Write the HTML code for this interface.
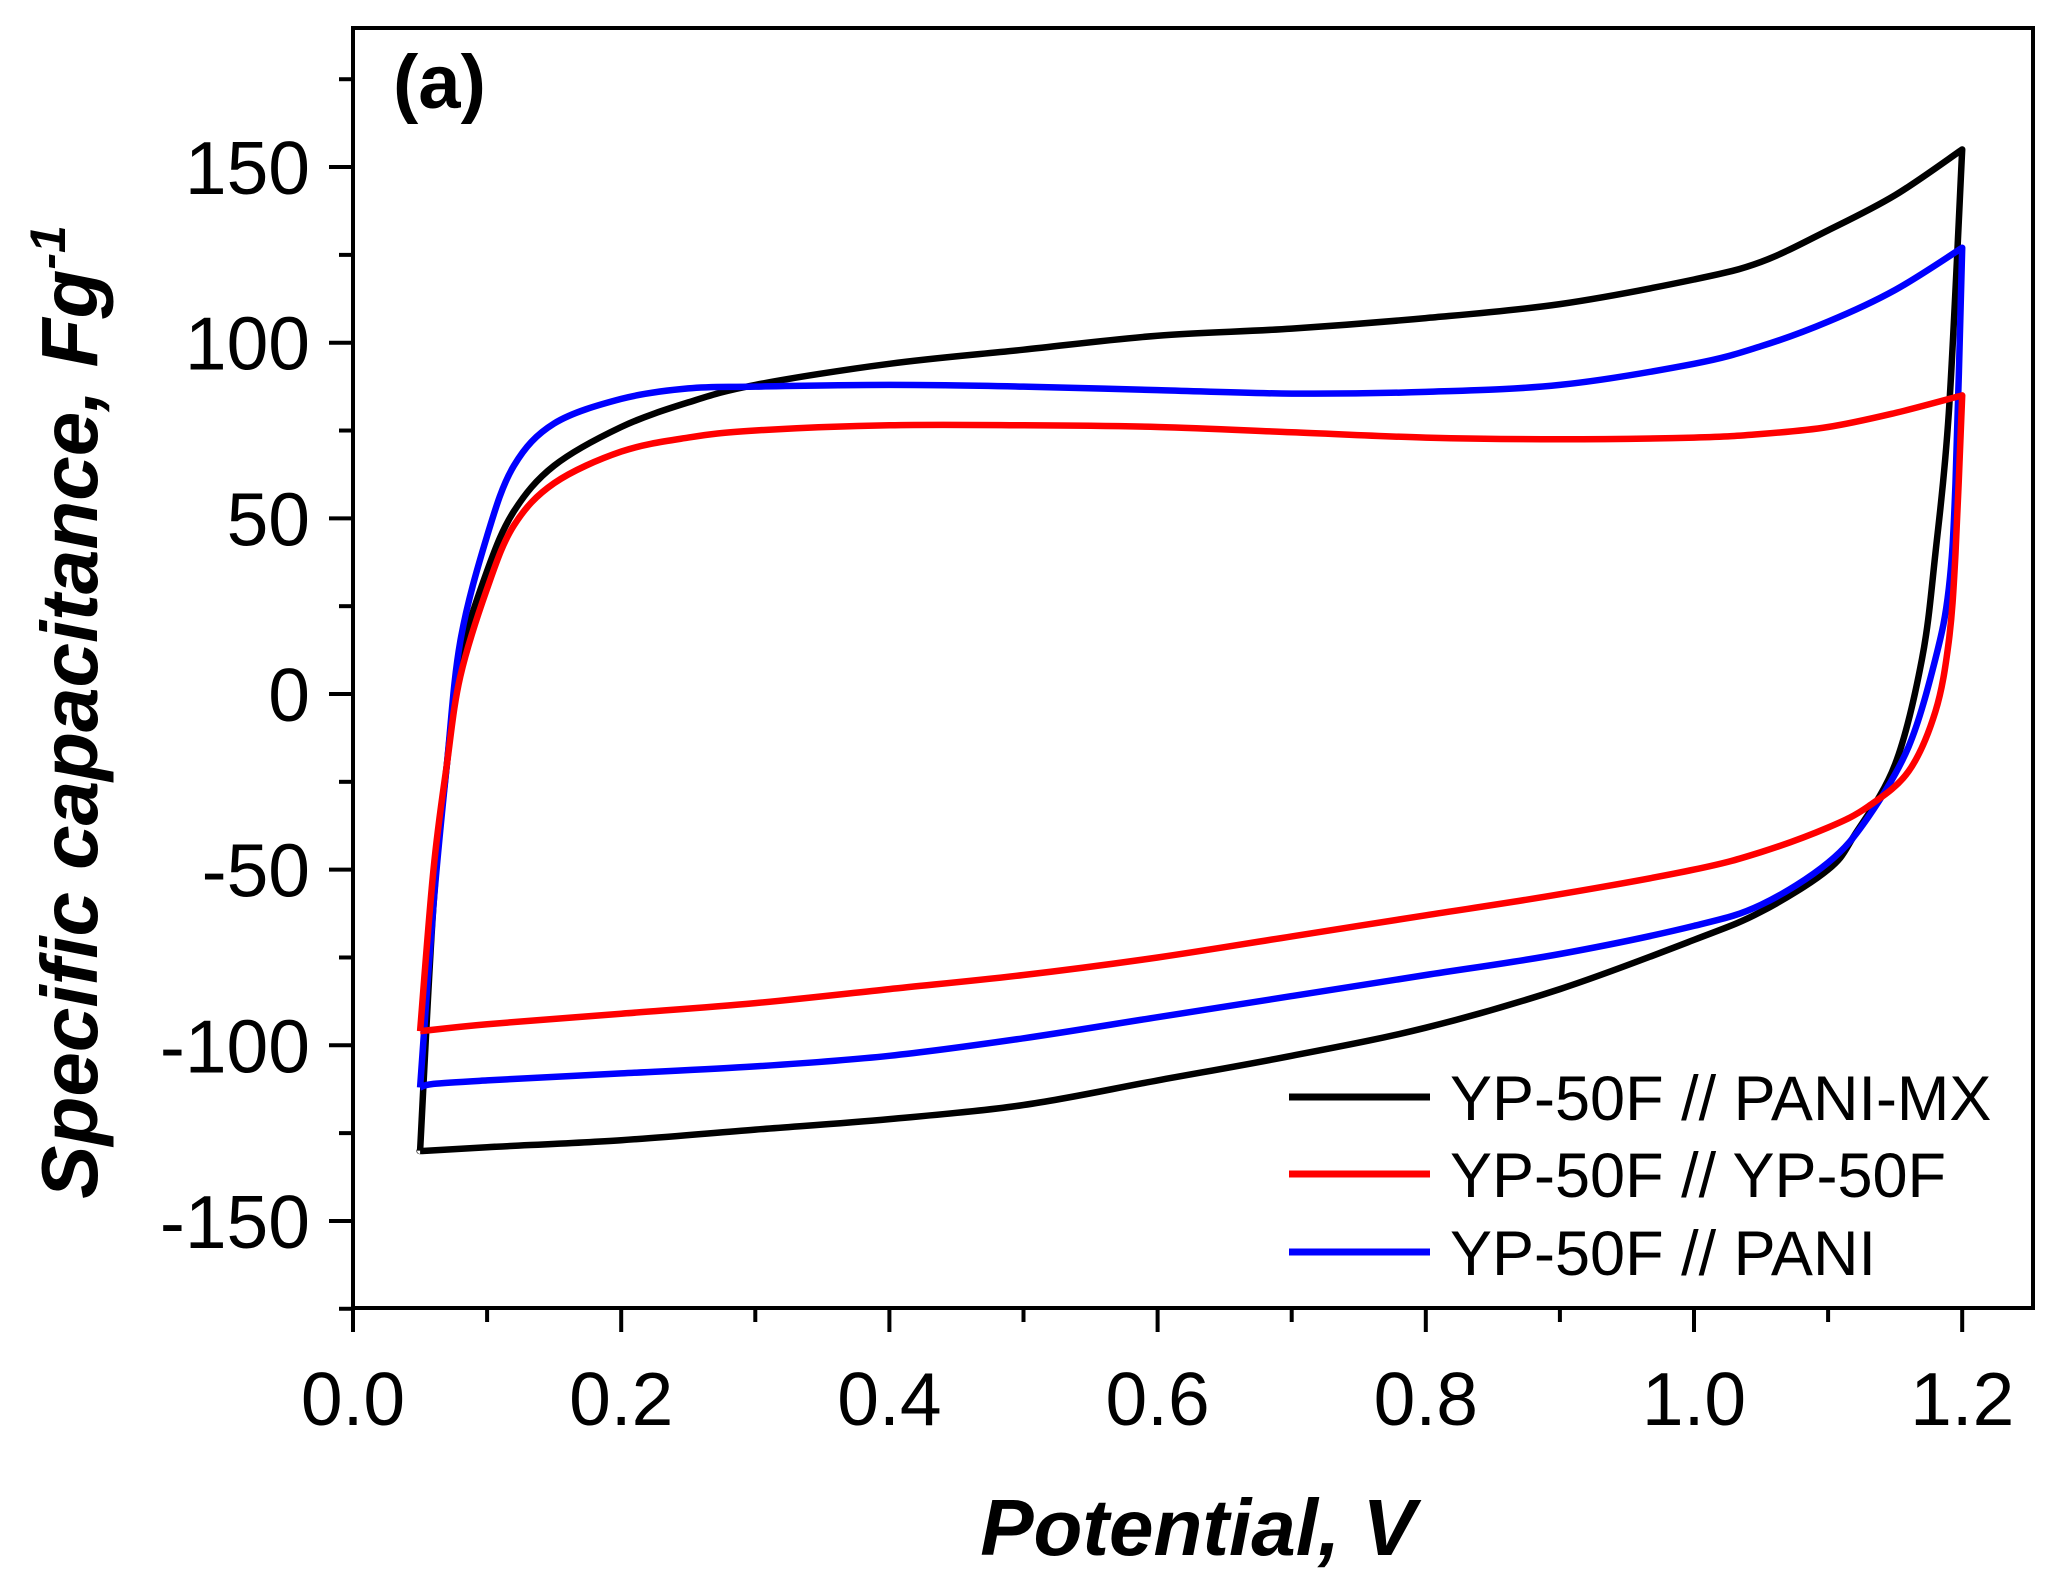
<!DOCTYPE html>
<html><head><meta charset="utf-8"><style>
html,body{margin:0;padding:0;background:#fff;}
svg{display:block;font-family:"Liberation Sans",Arial,sans-serif;}
</style></head><body>
<svg id="chart" width="2051" height="1581" viewBox="0 0 2051 1581" xmlns="http://www.w3.org/2000/svg">
<g id="plot"></g>
</svg>
<script>
const xTicks=[0.0,0.2,0.4,0.6,0.8,1.0,1.2];
const xTickLabels=["0.0","0.2","0.4","0.6","0.8","1.0","1.2"];
const yTicks=[-150,-100,-50,0,50,100,150];
const yTickLabels=["-150","-100","-50","0","50","100","150"];
const seriesNames=["YP-50F // PANI-MX","YP-50F // YP-50F","YP-50F // PANI"];
const seriesColors=["#000000","#ff0000","#0000ff"];
const blackX=[0.05,0.06,0.07,0.08,0.1,0.12,0.15,0.2,0.25,0.3,0.4,0.5,0.6,0.7,0.8,0.9,1.0,1.05,1.1,1.15,1.2,1.19,1.18,1.17,1.15,1.12,1.1,1.05,1.0,0.9,0.8,0.7,0.6,0.5,0.4,0.3,0.2,0.1,0.055,0.05];
const blackY=[-130,-60,-20,10,35,52,65,76,83,88,94,98,102,104,107,111,118,123,132,142,155,80,40,10,-20,-40,-50,-62,-70,-84,-95,-103,-110,-117,-121,-124,-127,-129,-130,-130];
const blueX=[0.05,0.06,0.07,0.08,0.1,0.12,0.15,0.2,0.25,0.3,0.4,0.5,0.6,0.7,0.8,0.9,1.0,1.05,1.1,1.15,1.2,1.195,1.19,1.18,1.16,1.13,1.1,1.05,1.0,0.9,0.8,0.7,0.6,0.5,0.4,0.3,0.2,0.1,0.06,0.05];
const blueY=[-112,-60,-20,15,45,65,77,84,87,87.5,88,87.5,86.5,85.5,86,88,94,99,106,115,127,60,30,10,-15,-35,-48,-60,-66,-74,-80,-86,-92,-98,-103,-106,-108,-110,-111,-112];
const redX=[0.05,0.06,0.07,0.08,0.1,0.12,0.15,0.2,0.25,0.3,0.4,0.5,0.6,0.7,0.8,0.9,1.0,1.05,1.1,1.15,1.2,1.195,1.19,1.18,1.16,1.13,1.1,1.05,1.0,0.9,0.8,0.7,0.6,0.5,0.4,0.3,0.2,0.1,0.05];
const redY=[-96,-50,-20,5,30,48,60,69,73,75,76.5,76.5,76,74.5,73,72.5,73,74,76,80,85,40,15,-5,-22,-32,-38,-45,-50,-57,-63,-69,-75,-80,-84,-88,-91,-94,-96];

const NS="http://www.w3.org/2000/svg";
const L=353,R=2033,T=28,B=1308;
function X(v){return 353+v*1341;}
function Y(v){return 694-v*3.513;}
const g=document.getElementById('plot');
function mk(tag,attrs,parent){const e=document.createElementNS(NS,tag);for(const k in attrs)e.setAttribute(k,attrs[k]);(parent||g).appendChild(e);return e;}
function smoothPath(P){
  // split at turning point (max x) and smooth each branch with Catmull-Rom
  let k=0;P.forEach((p,i)=>{if(p[0]>P[k][0])k=i;});
  const branches=[P.slice(0,k+1),P.slice(k)];
  let d="";
  branches.forEach((b,bi)=>{
    if(bi==0)d+="M"+b[0][0].toFixed(1)+","+b[0][1].toFixed(1);
    for(let i=0;i<b.length-1;i++){
      const p0=b[Math.max(0,i-1)],p1=b[i],p2=b[i+1],p3=b[Math.min(b.length-1,i+2)];
      const c1=[p1[0]+(p2[0]-p0[0])/6,p1[1]+(p2[1]-p0[1])/6];
      const c2=[p2[0]-(p3[0]-p1[0])/6,p2[1]-(p3[1]-p1[1])/6];
      d+="C"+c1[0].toFixed(1)+","+c1[1].toFixed(1)+" "+c2[0].toFixed(1)+","+c2[1].toFixed(1)+" "+p2[0].toFixed(1)+","+p2[1].toFixed(1);
    }
  });
  return d;
}

const series=[[blackX,blackY,seriesColors[0],"series-pani-mx"],[blueX,blueY,seriesColors[2],"series-pani"],[redX,redY,seriesColors[1],"series-yp-50f"]];
series.forEach(s=>{
  const P=s[0].map((x,i)=>[X(x),Y(s[1][i])]);
  const p=mk('path',{d:smoothPath(P),fill:"none",stroke:s[2],"stroke-width":6.5,"stroke-linejoin":"round"});
  
  
});

const fr=mk('rect',{x:L,y:T,width:R-L,height:B-T,fill:"none",stroke:"#000","stroke-width":4});



for(let i=0;i<=12;i++){
  const v=i*0.1,x=X(v),major=i%2==0;
  const t=mk('line',{x1:x,y1:B,x2:x,y2:B+(major?24:14),stroke:"#000","stroke-width":4});
  
  
}
xTicks.forEach((v,i)=>{
  const t=mk('text',{x:X(v),y:1425,"text-anchor":"middle","font-size":75,fill:"#000"});
  t.textContent=xTickLabels[i];
  
  
});
for(let v=-175;v<=175;v+=25){
  const y=Y(v);if(y<T-1||y>B+1)continue;
  const major=v%50==0;
  const t=mk('line',{x1:L,y1:y,x2:L-(major?24:14),y2:y,stroke:"#000","stroke-width":4});
  
  
}
yTicks.forEach((v,i)=>{
  const t=mk('text',{x:310,y:Y(v)+27,"text-anchor":"end","font-size":75,fill:"#000"});
  t.textContent=yTickLabels[i];
  
  
});

const legY=[1097,1174,1252],legC=[seriesColors[0],seriesColors[1],seriesColors[2]];
seriesNames.forEach((n,i)=>{
  const l=mk('line',{x1:1289,y1:legY[i],x2:1430,y2:legY[i],stroke:legC[i],"stroke-width":7});
  
  
  const t=mk('text',{x:1450,y:legY[i]+23,"font-size":63,fill:"#000"});
  t.textContent=n;
  
  
});
</script>
<svg style="position:absolute;left:0;top:0" width="2051" height="1581">
<text x="393" y="108" font-family="Liberation Sans, sans-serif" font-size="76" font-weight="bold">(a)</text>
<text x="1198" y="1555" text-anchor="middle" font-family="Liberation Sans, sans-serif" font-size="80" font-weight="bold" font-style="italic">Potential, V</text>
<text transform="translate(97,712) rotate(-90)" text-anchor="middle" font-family="Liberation Sans, sans-serif" font-size="80" font-weight="bold" font-style="italic">Specific capacitance, Fg<tspan dy="-32" font-size="50">-1</tspan></text>
</svg>
</body></html>
